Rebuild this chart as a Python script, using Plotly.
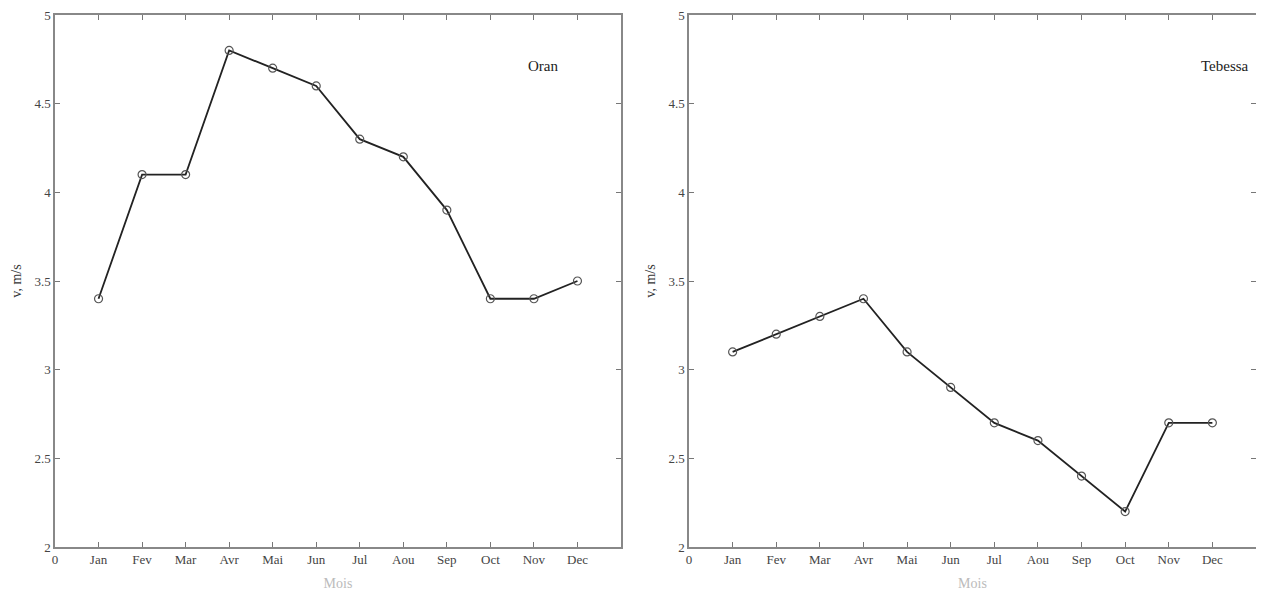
import plotly.graph_objects as go

months = ["Jan", "Fev", "Mar", "Avr", "Mai", "Jun", "Jul", "Aou", "Sep", "Oct", "Nov", "Dec"]
month_idx = list(range(1, 13))
oran = [3.4, 4.1, 4.1, 4.8, 4.7, 4.6, 4.3, 4.2, 3.9, 3.4, 3.4, 3.5]
tebessa = [3.1, 3.2, 3.3, 3.4, 3.1, 2.9, 2.7, 2.6, 2.4, 2.2, 2.7, 2.7]
x_ticks = [0] + month_idx
x_labels = ["0"] + months
y_ticks = [2, 2.5, 3, 3.5, 4, 4.5, 5]
y_labels = ["2", "2.5", "3", "3.5", "4", "4.5", "5"]

fam = "Liberation Serif, Times New Roman, serif"
font = dict(family=fam, size=13, color="#444")

fig = go.Figure()
for name, vals, xa, ya in [("Oran", oran, "x", "y"), ("Tebessa", tebessa, "x2", "y2")]:
    fig.add_trace(go.Scatter(
        x=month_idx, y=vals, mode="lines+markers", xaxis=xa, yaxis=ya,
        line=dict(color="#222", width=1.8),
        marker=dict(symbol="circle-open", size=8, color="#555", line=dict(width=1.2)),
        showlegend=False, name=name))

axis_common = dict(showline=True, linecolor="#888", linewidth=1.5, mirror="ticks",
                   ticks="inside", ticklen=5, tickcolor="#777", showgrid=False,
                   zeroline=False, tickfont=font, automargin=False,
                   ticklabeloverflow="allow")

xt = dict(text="Mois", font=dict(family=fam, size=14, color="#bbb"), standoff=12)
yt = dict(text="v, m/s", font=dict(family=fam, size=14, color="#333"), standoff=10)

W, H, OFF = 1264, 599, 8
def xd(a, b):
    return [(a - OFF) / W, (b - OFF) / W]
ydom = [1 - (547 - OFF) / H, 1 - (15 - OFF) / H]

fig.update_layout(
    width=W, height=H, paper_bgcolor="white", plot_bgcolor="white",
    margin=dict(l=0, r=0, t=0, b=0, autoexpand=False),
    xaxis=dict(domain=xd(55, 621), range=[0, 13], tickvals=x_ticks, ticktext=x_labels,
               anchor="y", title=xt, **axis_common),
    yaxis=dict(domain=ydom, range=[2, 5], tickvals=y_ticks, ticktext=y_labels,
               anchor="x", title=yt, **axis_common),
    xaxis2=dict(domain=xd(689, 1256), range=[0, 13], tickvals=x_ticks, ticktext=x_labels,
                anchor="y2", title=xt, **axis_common),
    yaxis2=dict(domain=ydom, range=[2, 5], tickvals=y_ticks, ticktext=y_labels,
                anchor="x2", title=yt, **axis_common),
    annotations=[
        dict(text="Oran", x=11.2, y=4.71, xref="x", yref="y", showarrow=False,
             font=dict(family=fam, size=15, color="#222")),
        dict(text="Tebessa", x=12.3, y=4.71, xref="x2", yref="y2", showarrow=False,
             font=dict(family=fam, size=15, color="#222")),
    ],
)

fig.write_html("out.html")
